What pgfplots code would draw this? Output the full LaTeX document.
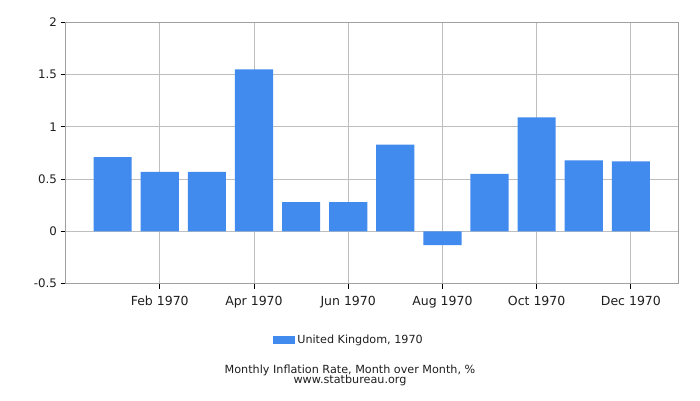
\documentclass[border=0pt]{standalone}
\usepackage{pgfplots}
\pgfplotsset{compat=1.18}
\usepackage{fontspec}
\setmainfont{DejaVu Sans}
\definecolor{barblue}{RGB}{65,139,239}
\definecolor{gridgray}{RGB}{190,190,190}
\definecolor{axisgray}{RGB}{160,160,160}
\definecolor{txt}{RGB}{30,30,30}
\newcommand{\chartfont}{\fontsize{11.2}{12}\selectfont}
\begin{document}
\begin{tikzpicture}[x=1pt,y=1pt]
\path[use as bounding box] (0,0) rectangle (700,400);
\begin{axis}[
    at={(65.5pt,116.3pt)}, anchor=south west,
    scale only axis,
    width=612.5pt, height=261.4pt,
    xmin=-1, xmax=12,
    ymin=-0.5, ymax=2,
    ybar, bar width=0.81,
    xtick={1,3,5,7,9,11},
    xticklabels={Feb 1970,Apr 1970,Jun 1970,Aug 1970,Oct 1970,Dec 1970},
    ytick={-0.5,0,0.5,1,1.5,2},
    yticklabels={-0.5,0,0.5,1,1.5,2},
    xtick pos=bottom, ytick pos=left,
    tick align=outside,
    major tick length=5pt,
    tick style={black, line width=0.8pt},
    grid=major,
    grid style={gridgray, line width=0.8pt},
    axis line style={axisgray, line width=0.8pt},
    xticklabel style={font=\fontsize{12.5}{13}\selectfont, text=txt, yshift=-4pt},
    yticklabel style={font=\fontsize{11.8}{13}\selectfont, text=txt},
    legend style={at={(rel axis cs:0.463,-0.2135)}, anchor=center,
        draw=none, fill=none, font=\chartfont, text=txt,
        /tikz/every even column/.append style={column sep=6pt}},
    legend image code/.code={\fill[#1] (0pt,-4pt) rectangle (22pt,4pt);},
]
\addplot[fill=barblue, draw=none] coordinates {
(0,0.71) (1,0.57) (2,0.57) (3,1.55) (4,0.28) (5,0.28)
(6,0.83) (7,-0.13) (8,0.55) (9,1.09) (10,0.68) (11,0.67)};
\addlegendentry{United Kingdom, 1970}
\end{axis}
\node[font=\chartfont, text=txt] at (350,29.3) {Monthly Inflation Rate, Month over Month, \%};
\node[font=\chartfont, text=txt] at (350,19.3) {www.statbureau.org};
\end{tikzpicture}
\end{document}
